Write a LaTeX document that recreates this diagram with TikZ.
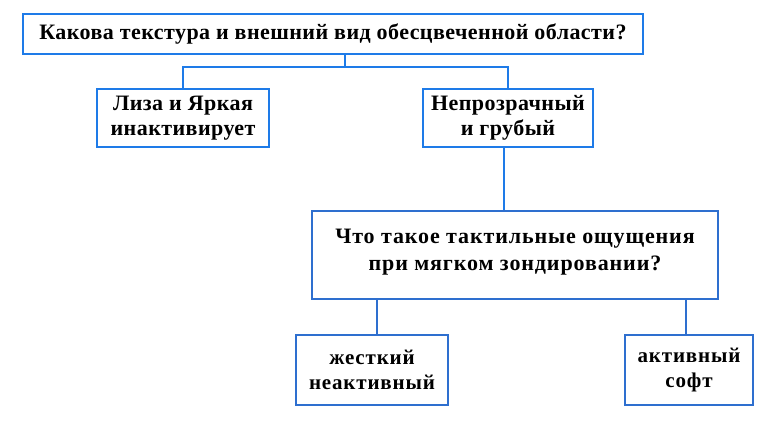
\documentclass[tikz,border=0pt]{standalone}
\usepackage{fontspec}
\setmainfont{Liberation Serif}
\newfontfamily\plainfont{Liberation Serif}[LetterSpace=2]
\newfontfamily\widefont{Liberation Serif}[LetterSpace=4]
\usetikzlibrary{positioning}

\definecolor{topblue}{RGB}{30,123,232}
\definecolor{lowblue}{RGB}{46,111,207}

\tikzset{
  qbox/.style={draw=topblue, line width=2pt, fill=white, align=center,
    inner sep=0pt, font=\plainfont\bfseries\fontsize{22}{25}\selectfont},
  abox/.style={draw=lowblue, line width=2pt, fill=white, align=center,
    inner sep=0pt, font=\widefont\bfseries\fontsize{21}{25}\selectfont},
  link/.style={draw=topblue, line width=2pt},
  lowlink/.style={draw=lowblue, line width=2pt}
}

\begin{document}
\begin{tikzpicture}[x=1pt,y=-1pt]
\useasboundingbox (0,0) rectangle (764,424);
% first question and its two answers
\node[qbox, minimum width=620pt, minimum height=40pt] (texture) at (333,34)
  {Какова текстура и внешний вид обесцвеченной области?};
\node[qbox, minimum width=172pt, minimum height=58pt] (bright) at (183,118)
  {Лиза и Яркая\\инактивирует};
\node[qbox, minimum width=170pt, minimum height=58pt] (opaque) at (508,118)
  {Непрозрачный\\и грубый};
\coordinate (fork) at (345,67);
\draw[link] (texture.south -| fork) -- (fork);
\draw[link] (bright.north) |- (fork) -| (opaque.north);
% second question
\node[abox, minimum width=406pt, minimum height=88pt, font=\widefont\bfseries\fontsize{22}{27}\selectfont] (probe) at (515,255)
  {\raisebox{10pt}{\shortstack{Что такое тактильные ощущения\\[5pt]при мягком зондировании?}}};
\draw[link] ([xshift=-4pt]opaque.south) -- ([xshift=-4pt]opaque.south |- probe.north);
% its two answers
\node[abox, minimum width=152pt, minimum height=70pt] (hard) at (372,370)
  {жесткий\\неактивный};
\node[abox, minimum width=128pt, minimum height=70pt] (soft) at (689,370)
  {активный\\софт};
\draw[lowlink] ([xshift=5pt]hard.north) -- ([xshift=5pt]hard.north |- probe.south);
\draw[lowlink] ([xshift=-3pt]soft.north) -- ([xshift=-3pt]soft.north |- probe.south);
\end{tikzpicture}
\end{document}
